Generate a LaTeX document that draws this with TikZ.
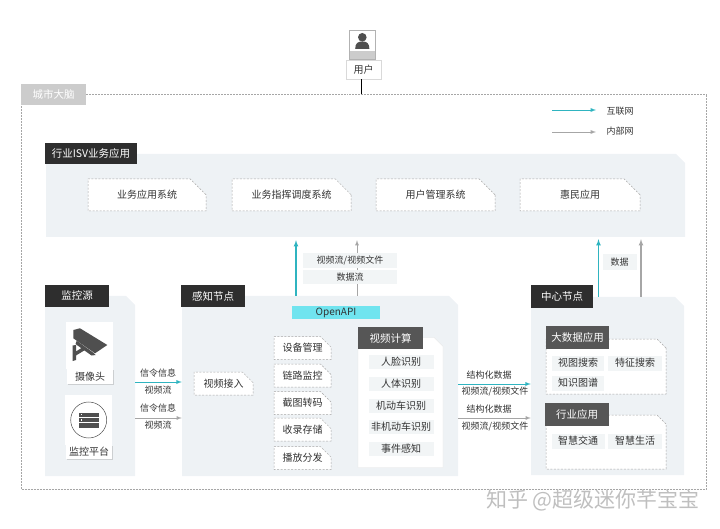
\documentclass[tikz,border=0pt]{standalone}
\usepackage{fontspec}
\setmainfont{Noto Sans CJK SC}
\usetikzlibrary{shapes.misc,shadows}
\definecolor{PanelClr}{HTML}{EEF2F5}
\definecolor{ItemClr}{HTML}{F2F5F6}
\definecolor{TagClr}{HTML}{2E2E2E}
\definecolor{SubTagClr}{HTML}{565656}
\definecolor{TealClr}{HTML}{2FB4C0}
\definecolor{GreyClr}{HTML}{A6A6A6}
\definecolor{ApiClr}{HTML}{70E4EF}
\definecolor{TextClr}{HTML}{333333}
\definecolor{IconClr}{HTML}{4F4F4F}
\tikzset{
  every node/.style={font=\fontsize{10}{12}\selectfont,text=TextClr,inner sep=0pt},
  CutBox/.style={chamfered rectangle,chamfered rectangle corners=north east,chamfered rectangle xsep=#1,chamfered rectangle ysep=#1},
  PanelBox/.style={CutBox=10pt,fill=PanelClr},
  DashBox/.style={CutBox=11pt,fill=white,draw=black!35,line width=.5pt,dash pattern=on 2pt off 1.5pt},
  MainTag/.style={fill=TagClr,text=white,font=\fontsize{10.5}{12}\selectfont},
  SubTag/.style={fill=SubTagClr,text=white,font=\fontsize{10.5}{12}\selectfont},
  ItemBox/.style={fill=ItemClr,minimum height=14pt},
  CardLbl/.style={fill=white,drop shadow={shadow xshift=.6pt,shadow yshift=-.6pt,opacity=.3}},
  SmallLbl/.style={font=\fontsize{9}{11}\selectfont},
  TealArrow/.style={draw=TealClr,line width=1.1pt,-latex},
  GreyArrow/.style={draw=GreyClr,line width=1.1pt,-latex}
}
\begin{document}
\begin{tikzpicture}[x=1pt,y=-1pt]
\useasboundingbox (0,0) rectangle (720,529);

\node[draw=GreyClr,line width=.5pt,densely dotted,minimum width=685pt,minimum height=394.5pt] (Brain) at (364,291.7) {};
\node[fill=black!20,text=white,font=\fontsize{10.5}{12}\selectfont,minimum width=65pt,minimum height=21pt] (BrainTag) at (53.5,94.5) {城市大脑};

% user
\node[fill=white,draw=black!30,line width=.8pt,minimum width=26pt,minimum height=29pt] (UserIcon) at (362.3,44.5) {};
\fill[black!20] (349.7,51.5) rectangle (374.9,58.6);
\fill[IconClr] (362.3,37.3) circle (4.3);
\fill[IconClr] (355.2,49) .. controls (355.2,43) and (358,41.5) .. (362.3,41.5) .. controls (366.6,41.5) and (369.4,43) .. (369.4,49) -- cycle;
\node[CardLbl,draw=black!15,minimum width=35pt,minimum height=19pt] (UserLbl) at (363.5,69.5) {用户};
\coordinate (ColU) at (361.5,0);
\draw[black,line width=1.2pt] (UserLbl.south -| ColU) -- (Brain.north -| ColU);

% legend
\coordinate (LegA) at (552,110);
\coordinate (LegAe) at (596,110);
\coordinate (LegB) at (552,132);
\coordinate (LegBe) at (596,132);
\draw[TealArrow,line width=.9pt] (LegA) -- (LegAe);
\draw[GreyArrow,line width=.9pt] (LegB) -- (LegBe);
\node[SmallLbl] (LegALbl) at (620,111) {互联网};
\node[SmallLbl] (LegBLbl) at (620,131.5) {内部网};

% ISV
\node[PanelBox,minimum width=639pt,minimum height=83pt] (Isv) at (365.5,195.5) {\phantom{口}};
\node[MainTag,minimum width=92pt,minimum height=21.5pt] (IsvTag) at (91,153.7) {行业ISV业务应用};
\node[DashBox,minimum width=118pt,minimum height=32pt] (AppA) at (147,195) {业务应用系统};
\node[DashBox,minimum width=119pt,minimum height=32pt] (AppB) at (291.5,195) {业务指挥调度系统};
\node[DashBox,minimum width=119pt,minimum height=32pt] (AppC) at (435.5,195) {用户管理系统};
\node[DashBox,minimum width=120pt,minimum height=32pt] (AppD) at (580,195) {惠民应用};

% panels
\node[PanelBox,minimum width=90pt,minimum height=180pt] (Src) at (90,386) {\phantom{口}};
\node[PanelBox,minimum width=276pt,minimum height=180pt] (Sense) at (320,386) {\phantom{口}};
\node[PanelBox,minimum width=153pt,minimum height=178pt] (Center) at (607.5,386) {\phantom{口}};
\node[MainTag,minimum width=64pt,minimum height=22pt] (SrcTag) at (77,296) {监控源};
\node[MainTag,minimum width=64pt,minimum height=22pt] (SenseTag) at (213,296) {感知节点};
\node[MainTag,minimum width=62pt,minimum height=23pt] (CenterTag) at (562,296.5) {中心节点};

% up arrows
\coordinate (ColA) at (296,0);
\coordinate (ColB) at (357,0);
\coordinate (ColC) at (598.5,0);
\coordinate (ColD) at (641,0);
\draw[TealArrow,shorten >=3pt] (Sense.north -| ColA) -- (Isv.south -| ColA);
\draw[GreyArrow,line width=.8pt,shorten >=3pt] (Sense.north -| ColB) -- (Isv.south -| ColB);
\draw[TealArrow,shorten >=2pt] (Center.north -| ColC) -- (Isv.south -| ColC);
\draw[GreyArrow,shorten >=2pt] (Center.north -| ColD) -- (Isv.south -| ColD);
\node[SmallLbl,fill=ItemClr,minimum width=94pt,minimum height=15pt] (FlowA) at (350,260.5) {视频流/视频文件};
\node[SmallLbl,fill=ItemClr,minimum width=94pt,minimum height=14pt] (FlowB) at (350,277) {数据流};
\node[SmallLbl,fill=ItemClr,minimum width=34pt,minimum height=16pt] (FlowC) at (619.5,262) {数据};
\node[fill=ApiClr,text=TextClr,minimum width=88pt,minimum height=13pt] (Api) at (336,312.5) {OpenAPI};

% camera
\node[fill=white,minimum width=47pt,minimum height=47pt] (CamBox) at (89.5,345.5) {};
\fill[IconClr] (73.3,330) -- (80,328.3) -- (107.3,345) -- (95,353.3) -- (73.3,338.3) -- cycle;
\fill[IconClr] (76.7,340.7) -- (93,352.5) -- (95.5,355) -- (91.5,355.5) -- (75.5,344) -- cycle;
\fill[IconClr] (72.7,345.5) -- (76,345) -- (76,351.5) -- (83,347) -- (85,350) -- (76,355.5) -- (76,360) -- (72.7,361) -- cycle;
\node[CardLbl,minimum width=46pt,minimum height=15pt] (CamLbl) at (90,376.5) {摄像头};

% platform
\node[fill=white,minimum width=47pt,minimum height=50pt] (PlatBox) at (88.5,420) {};
\node[draw=IconClr,fill=white,circle,line width=.5pt,minimum size=36pt] (PlatIcon) at (88.7,420) {};
\fill[IconClr] (79,412.5) rectangle (98.5,416.8);
\fill[IconClr] (79,417.8) rectangle (98.5,422.2);
\fill[IconClr] (79,423.2) rectangle (98.5,427.5);
\fill[white] (80.5,414) rectangle (82,415.3);
\fill[white] (80.5,419.4) rectangle (82,420.7);
\node[CardLbl,minimum width=46pt,minimum height=14pt] (PlatLbl) at (89,452) {监控平台};

% side arrows
\coordinate (RowA) at (0,382);
\coordinate (RowB) at (0,418);
\coordinate (RowC) at (0,384);
\draw[TealArrow,line width=.9pt] (Src.east |- RowA) -- (Sense.west |- RowA);
\draw[GreyArrow,line width=.8pt] (Src.east |- RowB) -- (Sense.west |- RowB);
\draw[TealArrow,line width=.9pt] (Sense.east |- RowC) -- (Center.west |- RowC);
\draw[GreyArrow,line width=.8pt] (Sense.east |- RowB) -- (Center.west |- RowB);
\node[SmallLbl] (SigA) at (158,373) {信令信息};
\node[SmallLbl] (VidA) at (158,390) {视频流};
\node[SmallLbl] (SigB) at (158,408.5) {信令信息};
\node[SmallLbl] (VidB) at (158,425.5) {视频流};
\node[SmallLbl] (DatA) at (489,375) {结构化数据};
\node[SmallLbl] (FilA) at (495,391.5) {视频流/视频文件};
\node[SmallLbl] (DatB) at (489,409) {结构化数据};
\node[SmallLbl] (FilB) at (495,426) {视频流/视频文件};

% sense node
\node[DashBox,CutBox=6pt,minimum width=59pt,minimum height=23pt] (VidIn) at (223.5,383.5) {视频接入};
\node[DashBox,CutBox=6pt,minimum width=57pt,minimum height=23pt] (FnA) at (302.5,348) {设备管理};
\node[DashBox,CutBox=6pt,minimum width=57pt,minimum height=23pt] (FnB) at (302.5,375.5) {链路监控};
\node[DashBox,CutBox=6pt,minimum width=57pt,minimum height=23pt] (FnC) at (302.5,403) {截图转码};
\node[DashBox,CutBox=6pt,minimum width=57pt,minimum height=23pt] (FnD) at (302.5,429.5) {收录存储};
\node[DashBox,CutBox=6pt,minimum width=57pt,minimum height=23pt] (FnE) at (302.5,458) {播放分发};
\node[CutBox=12pt,fill=white,draw=black!10,line width=.4pt,minimum width=85pt,minimum height=130pt] (Calc) at (400.5,402.5) {\phantom{口}};
\node[SubTag,minimum width=65pt,minimum height=22pt] (CalcTag) at (390.5,338) {视频计算};
\node[ItemBox,minimum width=65pt] (RecA) at (401,362) {人脸识别};
\node[ItemBox,minimum width=65pt] (RecB) at (401,383.5) {人体识别};
\node[ItemBox,minimum width=65pt] (RecC) at (401,405.5) {机动车识别};
\node[ItemBox,minimum width=65pt] (RecD) at (401,427) {非机动车识别};
\node[ItemBox,minimum width=65pt] (RecE) at (401,449) {事件感知};

% center node
\node[DashBox,CutBox=10pt,minimum width=120pt,minimum height=55pt] (Big) at (606,366.5) {\phantom{口}};
\node[SubTag,minimum width=63pt,minimum height=23pt] (BigTag) at (577.5,337.5) {大数据应用};
\node[ItemBox,minimum width=52pt,minimum height=15pt] (BigA) at (578,363) {视图搜索};
\node[ItemBox,minimum width=54pt,minimum height=15pt] (BigB) at (635,363) {特征搜索};
\node[ItemBox,minimum width=52pt,minimum height=15pt] (BigC) at (578,383) {知识图谱};
\node[DashBox,CutBox=10pt,minimum width=120pt,minimum height=54pt] (Ind) at (606,442) {\phantom{口}};
\node[SubTag,minimum width=64pt,minimum height=23pt] (IndTag) at (577,414.5) {行业应用};
\node[ItemBox,minimum width=53pt,minimum height=15pt] (IndA) at (578,441) {智慧交通};
\node[ItemBox,minimum width=54pt,minimum height=15pt] (IndB) at (635,441) {智慧生活};

\node[text=black!25,font=\fontsize{21}{24}\selectfont] (Mark) at (593,500) {知乎 @超级迷你芊宝宝};
\end{tikzpicture}
\end{document}
